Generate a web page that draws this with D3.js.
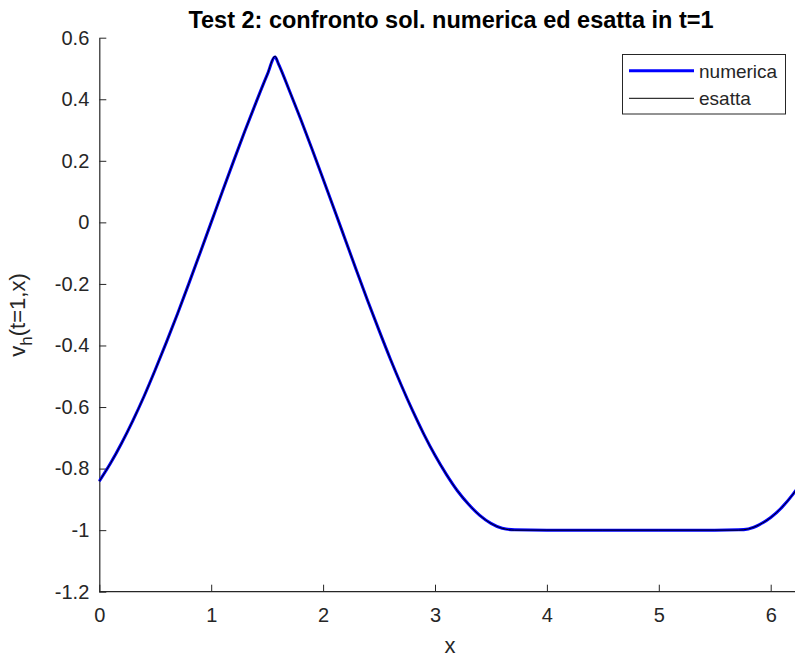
<!DOCTYPE html>
<html>
<head>
<meta charset="utf-8">
<script src="https://cdn.jsdelivr.net/npm/d3@7"></script>
<style>
  body { margin: 0; background: #fff; }
  svg { display: block; font-family: "Liberation Sans", Arial, sans-serif; }
</style>
</head>
<body>
<svg width="795" height="660"></svg>
<script>
// values
var xs = [0, 0.1, 0.2, 0.3, 0.4, 0.5, 0.6, 0.7, 0.8, 0.9, 1.0, 1.1, 1.2, 1.3, 1.4, 1.5, 1.571,
          1.6, 1.7, 1.8, 1.9, 2.0, 2.1, 2.2, 2.3, 2.4, 2.5, 2.6, 2.7, 2.8, 2.9, 3.0, 3.1, 3.2,
          3.3, 3.4, 3.5, 3.6, 3.712, 4.0, 4.5, 5.0, 5.5, 5.712, 5.8, 5.9, 6.0, 6.1, 6.2, 6.283];
var esatta = [-0.841, -0.783, -0.717, -0.644, -0.565, -0.479, -0.389, -0.296, -0.199, -0.100,
              0.000, 0.100, 0.199, 0.296, 0.389, 0.479, 0.540,
              0.516, 0.427, 0.335, 0.239, 0.141, 0.042, -0.058, -0.158, -0.256, -0.351, -0.443,
              -0.530, -0.612, -0.688, -0.757, -0.818, -0.872, -0.916, -0.952, -0.978, -0.994,
              -1.000, -1.000, -1.000, -1.000, -1.000, -1.000, -0.996, -0.982, -0.959, -0.926,
              -0.883, -0.841];
var numerica = [-0.841, -0.783, -0.717, -0.644, -0.565, -0.479, -0.389, -0.296, -0.199, -0.100,
                0.000, 0.100, 0.199, 0.296, 0.389, 0.479, 0.537,
                0.516, 0.427, 0.335, 0.239, 0.141, 0.042, -0.058, -0.158, -0.256, -0.351, -0.443,
                -0.530, -0.612, -0.688, -0.757, -0.818, -0.872, -0.916, -0.952, -0.978, -0.994,
                -0.999, -1.000, -1.000, -1.000, -1.000, -0.999, -0.996, -0.982, -0.959, -0.926,
                -0.883, -0.841];
var xTicks = [0, 1, 2, 3, 4, 5, 6];
var yTicks = [-1.2, -1, -0.8, -0.6, -0.4, -0.2, 0, 0.2, 0.4, 0.6];
var seriesNames = ["numerica", "esatta"];

var svg = d3.select("svg");
var axisColor = "#262626";

var xScale = d3.scaleLinear().domain([0, 2 * Math.PI]).range([99.3, 99.3 + 2 * Math.PI * 111.9]);
var yScale = d3.scaleLinear().domain([-1.2, 0.6]).range([591.7, 37.7]);

function toPoints(ys) {
  return xs.map(function(x, i) { return [x, ys[i]]; });
}

var line = d3.line()
  .x(function(d) { return xScale(d[0]); })
  .y(function(d) { return yScale(d[1]); })
  .curve(d3.curveMonotoneX);

// axes (ticks point inwards, like matlab)
var xAxis = svg.append("g")
  .attr("transform", "translate(0," + yScale(-1.2) + ")")
  .call(d3.axisBottom(xScale).tickValues(xTicks).tickSizeInner(-7).tickSizeOuter(0).tickPadding(16)
    .tickFormat(d3.format("d")));

var yAxis = svg.append("g")
  .attr("transform", "translate(" + xScale(0) + ",0)")
  .call(d3.axisLeft(yScale).tickValues(yTicks).tickSizeInner(-7).tickSizeOuter(0).tickPadding(10)
    .tickFormat(function(d) { return d3.format("")(+d.toFixed(1)).replace("−", "-"); }));

[xAxis, yAxis].forEach(function(ax) {
  ax.select(".domain").attr("stroke", axisColor).attr("stroke-width", 1.2);
  ax.selectAll(".tick line").attr("stroke", axisColor);
  ax.selectAll(".tick text").attr("fill", axisColor).style("font-size", "20px");
});
xAxis.select(".domain").attr("d", "M" + xScale(0) + ",0H800");

// curves
svg.append("path")
  .datum(toPoints(numerica))
  .attr("fill", "none")
  .attr("stroke", "#0000ff")
  .attr("stroke-width", 3)
  .attr("d", line);

svg.append("path")
  .datum(toPoints(esatta))
  .attr("fill", "none")
  .attr("stroke", "#000")
  .attr("stroke-width", 1)
  .attr("d", line);

// labels
svg.append("text")
  .attr("x", 451).attr("y", 27.5)
  .attr("text-anchor", "middle")
  .style("font-size", "23.5px").style("font-weight", "bold")
  .text("Test 2: confronto sol. numerica ed esatta in t=1");

svg.append("text")
  .attr("x", 450).attr("y", 653)
  .attr("text-anchor", "middle")
  .attr("fill", axisColor)
  .style("font-size", "22px")
  .text("x");

var ylab = svg.append("text")
  .attr("transform", "translate(25,315) rotate(-90)")
  .attr("text-anchor", "middle")
  .attr("fill", axisColor)
  .style("font-size", "22px");
ylab.append("tspan").text("v");
ylab.append("tspan").attr("dy", 7).style("font-size", "17px").text("h");
ylab.append("tspan").attr("dy", -7).text("(t=1,x)");

// legend
var legend = svg.append("g");
legend.append("rect")
  .attr("x", 622.5).attr("y", 54.5).attr("width", 163).attr("height", 59.5)
  .attr("fill", "#fff").attr("stroke", axisColor).attr("stroke-width", 1);

var legendStyles = [{ color: "#0000ff", width: 3 }, { color: "#000", width: 1 }];
seriesNames.forEach(function(name, i) {
  var y = 70.7 + i * 27.6;
  legend.append("line")
    .attr("x1", 629).attr("x2", 694).attr("y1", y).attr("y2", y)
    .attr("stroke", legendStyles[i].color).attr("stroke-width", legendStyles[i].width);
  legend.append("text")
    .attr("x", 699).attr("y", y + 7)
    .attr("fill", axisColor)
    .style("font-size", "19px")
    .text(name);
});
</script>
</body>
</html>
